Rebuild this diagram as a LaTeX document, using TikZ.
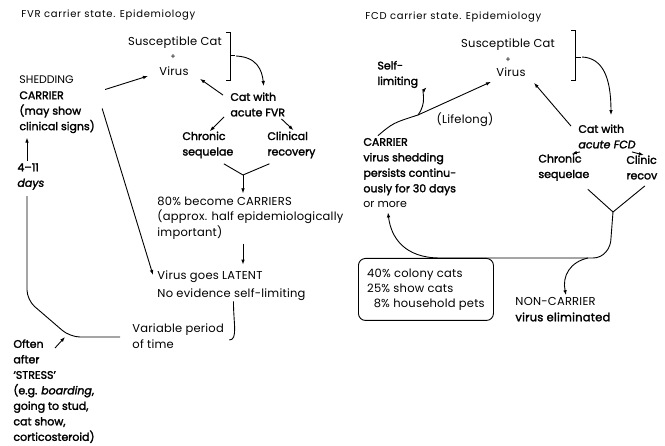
\documentclass[tikz,border=0pt]{standalone}
\usepackage{fontspec}
\setmainfont{Poppins}[BoldFont={Poppins},BoldFeatures={FakeBold=2},
  BoldItalicFont={Poppins Italic},BoldItalicFeatures={FakeBold=2}]
\usetikzlibrary{arrows.meta,positioning}

\tikzset{
  txt/.style={inner sep=0pt,align=left,font=\fontsize{11.5}{15.5}\selectfont\addfontfeatures{LetterSpace=2}},
  btxt/.style={inner sep=0pt,align=left,font=\fontsize{11}{15.5}\selectfont\bfseries},
  hdr/.style={inner sep=0pt,font=\fontsize{10}{12}\selectfont\addfontfeatures{LetterSpace=7}},
  arr/.style={-{Latex[length=5pt,width=3.6pt]}},
  pctbox/.style={inner sep=0pt,align=left,
        font=\fontsize{11.5}{15}\selectfont\addfontfeatures{LetterSpace=2},
        draw,rounded corners=7pt,anchor=north west,minimum width=135pt,minimum height=62pt}
}

\begin{document}
\begin{tikzpicture}[x=1pt,y=-1pt,line width=0.9pt]
  \useasboundingbox (0,0) rectangle (665,446);

  % FVR side
  \node[hdr,anchor=west] (titleL) at (21,15) {FVR carrier state. Epidemiology};
  \node[txt] (susL) at (175,43) {Susceptible Cat};
  \node[txt,font=\fontsize{8}{8}\selectfont] (plusL) at (173,57) {+};
  \node[txt] (virusL) at (174,71) {Virus};
  \node[btxt,anchor=west] (acuteL) at (230,104.5) {Cat with\\acute FVR};
  \node[btxt,anchor=west] (shedL) at (19,104.5) {{\mdseries SHEDDING}\\CARRIER\\(may show\\clinical signs)};
  \node[btxt,anchor=west] (chronL) at (182,145) {Chronic\\sequelae};
  \node[btxt,anchor=west] (clinL) at (267,145) {Clinical\\recovery};
  \node[btxt,anchor=west] (daysL) at (17,176.5) {4--11\\\textit{days}};
  \node[txt,anchor=west] (carL) at (157,218) {80\% become CARRIERS\\(approx. half epidemiologically\\important)};
  \node[txt,anchor=west] (latL) at (157,277) {Virus goes LATENT};
  \node[txt,anchor=west] (noevL) at (157,295) {No evidence self-limiting};
  \node[txt,anchor=west] (varL) at (132,336) {Variable period\\of time};
  \node[btxt,anchor=north west] (oftenL) at (13,339) {Often\\after\\`STRESS'\\(e.g. \textit{boarding},\\going to stud,\\cat show,\\corticosteroid)};

  \draw (226,32) -- (230,32) -- (230,80) -- (226,80);
  \draw (230,55) -- (235,55);
  \coordinate (brL) at (236,56);
  \coordinate (forkL) at (243,175);
  \coordinate (colL) at (27,0);

  \draw[arr] (brL) .. controls (257,57) and (262,70) .. ([shift={(6,-6)}]acuteL.north);
  \draw[arr] ([shift={(-7,3)}]acuteL.north west) -- ([shift={(11,3)}]virusL.south east);
  \draw[arr] ([shift={(10,-15)}]shedL.east) -- ([shift={(-11,5)}]virusL.west);
  \draw[arr] ([shift={(-6,0)}]acuteL.south west) -- ([xshift=2]chronL.north);
  \draw[arr] ([shift={(-4,2)}]acuteL.south east) -- ([shift={(2,-1)}]clinL.north);
  \draw ([shift={(16,5)}]chronL.south) -- (forkL) -- ([shift={(-22,5)}]clinL.south);
  \draw[arr] (forkL) -- ([shift={(0,-3)}]forkL |- carL.north);
  \draw[arr] ([shift={(0,4)}]carL.south -| forkL) -- ([shift={(0,-6)}]latL.north -| forkL);
  \draw[arr] ([shift={(7,4)}]shedL.east) -- ([shift={(-4,-2)}]latL.west);
  \draw ([xshift=2]noevL.south) .. controls +(0,22) and (238,340) .. ([shift={(5,4)}]varL.east);
  \draw[rounded corners=10pt] ([shift={(-12,1)}]varL.west) -- (70,337) -- (27,300) -- ([shift={(0,6)}]colL |- daysL.south);
  \draw[arr] ([shift={(0,-2)}]colL |- daysL.north) -- ([shift={(0,4)}]colL |- shedL.south);
  \draw[arr] ([shift={(42,9)}]oftenL.north west) -- ([shift={(52,-2)}]oftenL.north west);

  % FCD side
  \node[hdr,anchor=west] (titleR) at (365,17) {FCD carrier state. Epidemiology};
  \node[txt] (susR) at (508,45) {Susceptible Cat};
  \node[txt,font=\fontsize{8}{8}\selectfont] (plusR) at (508,60) {+};
  \node[txt] (virusR) at (511,72) {Virus};
  \node[btxt,anchor=west] (selfR) at (377,74.5) {Self-\\limiting};
  \node[txt] (lifeR) at (465,120) {(Lifelong)};
  \node[btxt,anchor=west] (acuteR) at (578,136.5) {Cat with\\\textit{acute FCD}};
  \node[btxt,anchor=west] (carR) at (363,173) {CARRIER\\virus shedding\\persists continu-\\ously for 30 days\\{\mdseries or more}};
  \node[btxt,anchor=west] (chronR) at (538,167.5) {Chronic\\sequelae};
  \node[btxt,anchor=west] (clinR) at (626,167.5) {Clinic\\recov};
  \node[pctbox] (boxR) at (358,258) {40\% colony cats\\25\% show cats\\\phantom{2}8\% household pets};
  \node[txt,anchor=west] (nonR) at (515,309.5) {NON-CARRIER\\\textbf{virus eliminated}};

  \draw (571,30) -- (575,30) -- (575,80) -- (571,80);
  \draw (575,57) -- (581,57);
  \coordinate (brR) at (582,57);
  \coordinate (lifeJ) at (418,115);
  \coordinate (forkR) at (613,212);

  \draw[arr] (brR) .. controls (603,58) and (611,78) .. ([shift={(4,-9)}]acuteR.north);
  \draw[arr] ([shift={(-7,2)}]acuteR.north west) -- ([shift={(8,6)}]virusR.south east);
  \draw[arr] ([shift={(15,-2)}]carR.north west) .. controls (393,123) .. (lifeJ) -- ([shift={(-5,5)}]virusR.south west);
  \draw[arr] (lifeJ) .. controls (427,103) and (422,92) .. ([shift={(8,-1)}]selfR.south east);
  \draw[arr] ([shift={(2,3)}]acuteR.south west) -- ([xshift=8]chronR.north);
  \draw[arr] ([shift={(-4,3)}]acuteR.south east) -- ([xshift=2]clinR.north);
  \draw ([shift={(24,8)}]chronR.south) -- (forkR) -- ([shift={(3,6)}]clinR.south);
  \draw[arr] (forkR) -- (611,238) to[out=-90,in=0] (593,258) -- (440,258)
        .. controls (405,258) and (391,238) .. ([shift={(25,4)}]carR.south west);
  \draw[arr] (588,258) .. controls (570,262) and (562,276) .. ([shift={(3,-2)}]nonR.north);
\end{tikzpicture}
\end{document}
